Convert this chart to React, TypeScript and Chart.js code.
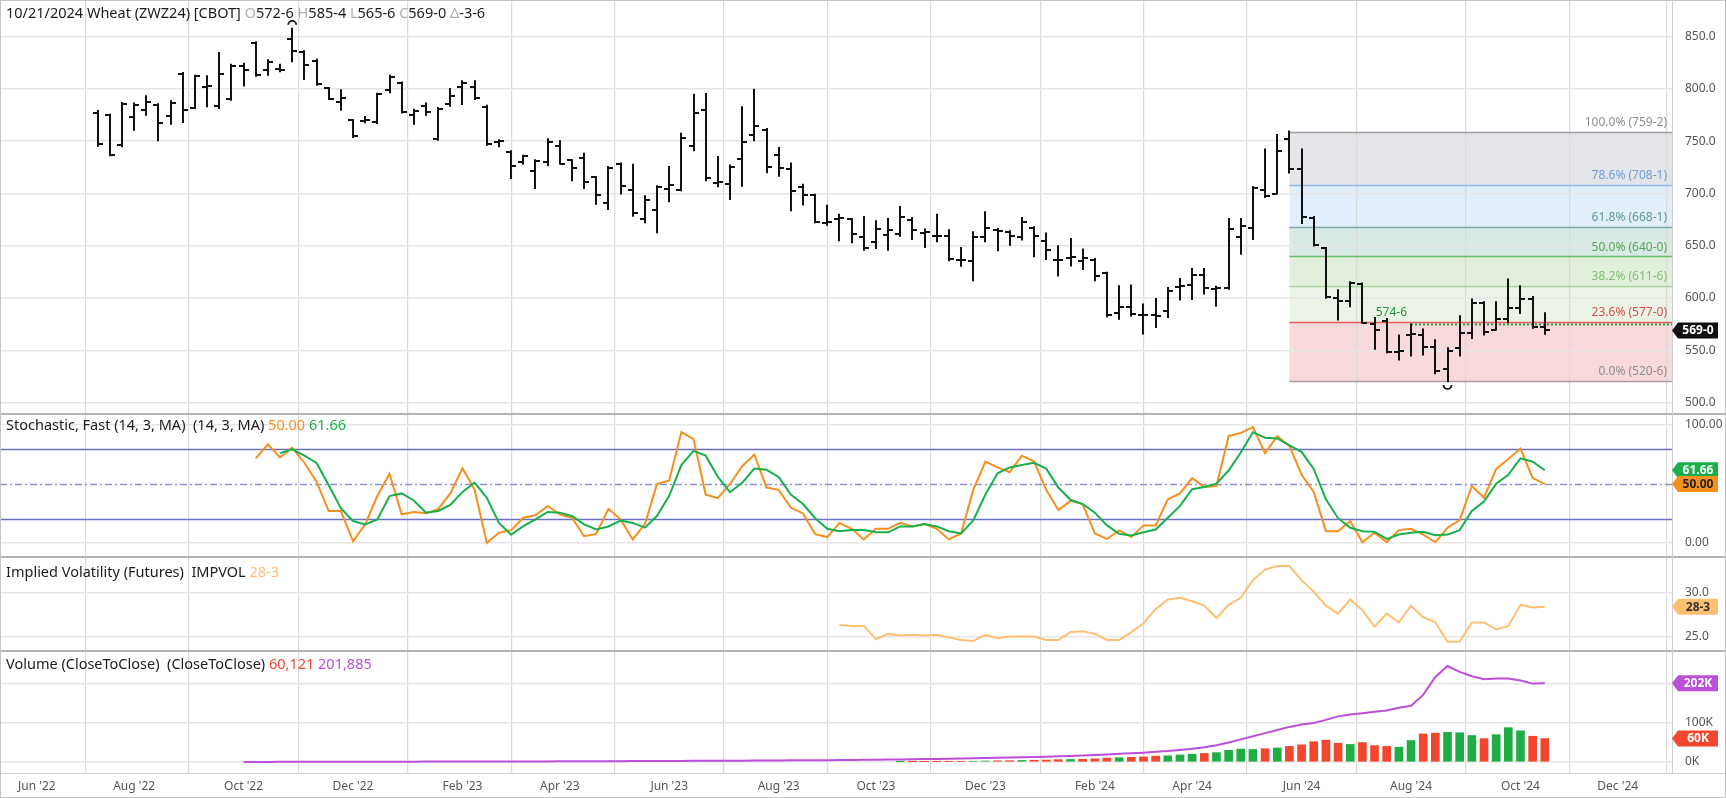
import React, { useEffect, useRef } from 'react';
import { Chart, registerables } from 'chart.js';

Chart.register(...registerables);

// ---------------- DATA ----------------
const FIRST_WEEK = '2022-07-11';
const TITLE = '10/21/2024 Wheat (ZWZ24) [CBOT] ';

const OPEN = [
  777, 775, 746, 773, 780, 785, 774, 814, 782, 802,
  784, 790, 822, 844, 818, 819, 848, 835, 827, 801,
  788, 770, 769, 768, 799, 806, 775, 784, 752, 786,
  802, 802, 783, 749, 739.4, 729.8, 722, 730, 745, 731.8,
  734, 715.8, 691, 728.6, 703, 675.7, 684, 704.3, 703.1, 745.8,
  780.2, 710, 709.4, 733, 756.3, 761.1, 737.2, 723.5, 706, 698.9,
  672, 675.7, 675.7, 658.4, 653.3, 660, 661.6, 675, 662, 659.7,
  659.7, 636.1, 635.2, 658.4, 665, 663, 658.5, 667.1, 655, 636.8,
  638.4, 635.2, 636.8, 624.1, 585.8, 591.2, 584.2, 584.2, 587.4, 610.7,
  612.9, 622.5, 608.8, 609.7, 658.5, 667.1, 703, 700, 752.5, 723.8,
  676.6, 648, 600, 597, 613, 575.6, 578, 548, 565, 565,
  553, 532, 552.4, 566.7, 595.4, 569.9, 580, 590.6, 599, 572.75,
];
const HIGH = [
  779, 775.4, 786.6, 786, 793, 785.5, 788.2, 815.3, 812.7, 812.1,
  834.4, 823.2, 824.2, 844.6, 827.4, 823.2, 857.5, 836, 828, 801,
  798.7, 770, 773.2, 795.5, 812.7, 806.3, 780.2, 786, 781.8, 800,
  807.3, 807.3, 784, 750.9, 740.4, 736.2, 731.8, 752, 749.9, 731.8,
  738.1, 715.8, 725.4, 728.6, 727.6, 697.3, 706.9, 725.4, 757.2, 794.5,
  795.2, 734.9, 726.7, 782.4, 799.3, 761.7, 743.5, 728.6, 708.5, 698.9,
  688.4, 679.8, 675.7, 677.6, 673.4, 675.7, 687.1, 676.6, 665.5, 679.8,
  664.8, 648, 662.9, 682, 666.1, 663.9, 676.6, 667.7, 661.7, 649.6,
  656.6, 646.4, 637.4, 624.1, 611.3, 611.9, 593.8, 599.2, 609.7, 618.3,
  627.9, 627.9, 610.7, 675.7, 675.7, 706.3, 742, 756, 759.25, 742,
  677.6, 648, 607.5, 615.2, 613.9, 581, 580, 564.2, 574.7, 569.9,
  559.7, 552, 582.6, 598.6, 596, 596, 617.7, 611.3, 601.1, 585.5,
];
const LOW = [
  745.8, 736.5, 745.1, 761.1, 775.4, 750.9, 766.8, 768.4, 781.8, 783.4,
  781.8, 789.8, 803.2, 812.7, 813.7, 816.9, 826.4, 809.5, 804, 790.4,
  780.2, 754, 768.1, 767.5, 796.8, 777.6, 766.8, 775.4, 751.5, 784,
  785.6, 790.4, 746.7, 745.1, 714.9, 728.6, 705.3, 727, 728.6, 712.6,
  705.3, 690.3, 685.2, 699.9, 678.8, 672.5, 662.9, 692.5, 703.1, 741.3,
  712.6, 706.9, 694.8, 707.5, 750.9, 720.3, 717.1, 684, 689.4, 672.5,
  670.2, 655.3, 653.3, 646.3, 647.9, 646.3, 659.7, 656.5, 648.9, 654.3,
  636.1, 631, 617, 654.3, 645.7, 651.1, 655.9, 640, 637.4, 621.5,
  631.1, 627.9, 617.1, 582.6, 580.1, 583.3, 566.1, 572.4, 582, 598.6,
  599.2, 604.3, 592.8, 608.8, 642.5, 656.6, 696.7, 699.9, 720, 671.9,
  650.2, 600.2, 579.5, 592.2, 576.3, 551.4, 548.2, 541.2, 545, 546,
  528, 520.75, 545, 561.9, 565.1, 569.9, 576.9, 585.8, 571.5, 565.75,
];
const CLOSE = [
  747, 737, 786, 785, 788, 767, 787, 780, 812, 803,
  814, 822, 818, 813, 826, 818, 836.6, 823, 805, 790.4,
  791, 755, 770, 795, 811, 778, 779, 778, 781, 793,
  805.7, 791, 747.7, 750, 726.7, 735.5, 730.8, 749, 728.6, 724.4,
  710.7, 698.9, 724.4, 707.5, 681.4, 694.1, 706.3, 708.5, 753.1, 777,
  714.9, 710.7, 725.4, 749, 764.9, 725.4, 724.4, 702.7, 698.9, 672.5,
  673, 676.6, 661.6, 648, 666, 664.8, 677.6, 664.8, 662.9, 659,
  637.4, 636.1, 658.4, 667, 663.9, 659, 672.5, 659.1, 645.7, 636.8,
  639.4, 638.4, 620.9, 584.2, 591.2, 585.2, 584.2, 582.6, 606.5, 612,
  622.5, 609.7, 609.7, 666.1, 669.3, 705.3, 697.4, 740.4, 723.8, 677.6,
  650.5, 601, 597, 614, 576.3, 569.9, 548.2, 549.2, 566, 553.3,
  530, 549, 566.7, 595.4, 567.4, 580, 590.6, 599, 572.75, 569,
];

const STOCH_K_FIRST = 13;
const STOCH_K = [
  71.7, 83.6, 72.5, 80.8, 68, 52, 27, 27, 1.4, 15.7,
  40, 58.6, 24.3, 26.3, 25.1, 28.6, 42, 63.3, 45, 0,
  8.6, 10.9, 21.4, 23.4, 31.4, 24.3, 21.4, 5.7, 7.7, 29,
  20, 3, 16, 50, 53, 94, 88, 41, 38, 50,
  65, 75, 47, 45, 30, 25, 7.5, 5, 17, 12,
  3, 12, 12, 17, 14, 16, 12, 3, 8, 45,
  69, 64, 60, 74, 69, 45, 28, 35.7, 32.9, 8,
  3.4, 10.6, 5.1, 14.9, 14.9, 37, 42, 55, 47.5, 48.3,
  90.5, 93.3, 98.3, 76.1, 90.5, 82.2, 57.8, 43.3, 10, 10,
  18.6, 0.6, 8.6, 0.6, 10.9, 12, 7.1, 0.6, 12.9, 19.4,
  48.3, 38.3, 62.8, 71.1, 80, 55, 50,
];
const STOCH_D_FIRST = 15;
const STOCH_D = [
  76.1, 79.4, 74, 67.8, 48.9, 29.4, 18.6, 15.7, 20, 39.7,
  42, 36, 25.7, 27.1, 32.2, 43.3, 51.1, 38.3, 17, 7,
  14.3, 20, 26.3, 25.7, 22.9, 15.7, 11.4, 14, 19, 17,
  13, 23, 40, 66, 78, 74, 56, 43, 51, 63,
  62, 56, 41, 33, 21, 12, 10, 11, 11, 9,
  9, 14, 14, 16, 14, 10, 8, 19, 41, 59,
  64, 66, 68, 63, 47, 36.6, 33, 25.7, 14.9, 7.7,
  6.3, 9.1, 11.4, 21.4, 31.4, 45.6, 47.5, 50.3, 61.4, 76.7,
  93.9, 89.2, 88.6, 82.8, 77.2, 62.8, 37, 21, 12.9, 10,
  9.4, 3.4, 7.1, 8.6, 9.4, 6.6, 7.1, 10.9, 27.1, 35,
  50.3, 57.8, 71.7, 68.9, 61.66,
];

const IV_FIRST = 61;
const IMPVOL = [
  26.3, 26.2, 26.2, 24.7, 25.3, 25.1, 25.2, 25.1, 25.2, 24.9,
  24.6, 24.5, 25.2, 24.8, 25.0, 25.0, 25.0, 24.6, 24.6, 25.5,
  25.6, 25.3, 24.6, 24.6, 25.5, 26.5, 28.1, 29.2, 29.4, 29.0,
  28.5, 27.1, 28.6, 29.4, 31.4, 32.6, 33.0, 33.0, 31.4, 30.1,
  28.5, 27.6, 29.2, 28.0, 26.1, 27.6, 26.6, 28.5, 27.2, 26.6,
  24.4, 24.4, 26.6, 26.6, 25.8, 26.2, 28.6, 28.3, 28.375,
];

// open interest (thousands)
const OI_FIRST = 12;
const OPEN_INTEREST = [
  0.2, 0.3, 0.3, 0.4, 0.4, 0.5, 0.5, 0.6, 0.6, 0.7, 0.7, 0.8, 0.8, 0.9, 0.9, 1.0, 1.0, 1.1, 1.1,
  1.2, 1.3, 1.3, 1.4, 1.5, 1.5, 1.6, 1.7, 1.8, 1.9, 2.0, 2.1, 2.2, 2.3, 2.4, 2.5, 2.6,
  2.8, 2.9, 3.0, 3.2, 3.3, 3.5, 3.6, 3.8, 4.0, 4.2, 4.4, 4.6, 4.8, 5.0, 5.3, 5.6, 6.0,
  6.3, 6.7, 7.1, 7.5, 7.9, 8.3, 8.8, 9.3, 10,
  10.6, 11.3, 12.0, 12.8, 13.6, 14.5, 15.5, 16.6, 18,
  19.5, 21, 22.5, 24, 26, 28, 31, 34,
  38, 43, 50, 58, 66, 74, 82, 90, 96,
  100, 108, 117, 122, 125, 129, 132, 139, 144, 172, 218, 246, 231, 220, 212, 214, 214, 209, 201, 201.885,
];

// volume (thousands)
const VOL_FIRST = 66;
const VOLUME = [
  0.5, 0.6, 0.8, 1, 1.2, 1.5, 2, 2.5, 3, 3.5,
  4, 4.5, 5, 6, 6.5, 7, 8, 10, 11, 12,
  13, 15, 16, 18, 20, 22, 24, 30, 33, 32,
  34, 36, 40, 44, 52, 56, 48, 45, 50, 42,
  40, 38, 55, 72, 74, 76, 75, 68, 60, 70,
  88, 80, 66, 60.121,
];

const MONTH_LABELS = ["Jun '22", "Aug '22", "Oct '22", "Dec '22", "Feb '23", "Apr '23", "Jun '23", "Aug '23",
  "Oct '23", "Dec '23", "Feb '24", "Apr '24", "Jun '24", "Aug '24", "Oct '24", "Dec '24"];
const MONTH_FIRST_WEEKS = ['2022-06-06', '2022-08-01', '2022-10-03', '2022-12-05', '2023-02-06', '2023-04-03',
  '2023-06-05', '2023-08-07', '2023-10-02', '2023-12-04', '2024-02-05', '2024-04-01', '2024-06-03',
  '2024-08-05', '2024-10-07', '2024-12-02'];

const PRICE_TICKS = [500, 550, 600, 650, 700, 750, 800, 850];
const STOCH_TICKS = [0, 100];
const IV_TICKS = [25, 30];
const VOL_TICKS = [0, 100, 200];
const STOCH_LEVELS = [80, 50, 20];

const FIB_HIGH = 759.25;
const FIB_LOW = 520.75;
const FIB_START_WEEK = 98;
const FIB_RATIOS = [1, 0.786, 0.618, 0.5, 0.382, 0.236, 0];
const REF_LINE_PRICE = 574.75;
const REF_LINE_START_WEEK = 108;

// ---------------- STYLE ----------------
const FONT = "'Noto Sans', 'Open Sans', sans-serif";
const FIB_FILLS = ['#e4e5e8', '#e2eefb', '#d9e9e6', '#e1efdc', '#eaf3e6', '#f8d9dc'];
const FIB_LINES = ['#a2a2a6', '#8fb9e8', '#7aaca4', '#6cbd6c', '#a6d29c', '#e65c5c', '#aa9c9c'];
const FIB_TEXT = ['#8e8e8e', '#6f9fd6', '#5f9a92', '#55a655', '#86bd78', '#d85050', '#8e8e8e'];
const C_K = '#f5901e';
const C_D = '#17b04a';
const C_IV = '#ffbf70';
const C_OI = '#bb4fd9';
const C_UP = '#1fae44';
const C_DN = '#f2472e';

function fmt8(v: number): string {
  const neg = v < 0;
  const a = Math.abs(v);
  const whole = Math.floor(a + 1e-9);
  const eighths = Math.floor((a - whole) * 8 + 1e-6);
  return `${neg ? '-' : ''}${whole}-${eighths}`;
}

function weekIndex(d: string): number {
  return Math.round((Date.parse(d) - Date.parse(FIRST_WEEK)) / (7 * 864e5));
}

function segs(ctx: CanvasRenderingContext2D, x: number, y: number, parts: [string, string][]) {
  let cx = x;
  for (const [t, c] of parts) {
    ctx.fillStyle = c;
    ctx.fillText(t, cx, y);
    cx += ctx.measureText(t).width;
  }
}

function badge(ctx: CanvasRenderingContext2D, xl: number, y: number, text: string, bg: string, fg: string) {
  const h = 16, tip = 6, w = 40;
  ctx.beginPath();
  ctx.moveTo(xl, y);
  ctx.lineTo(xl + tip, y - h / 2);
  ctx.lineTo(xl + tip + w, y - h / 2);
  ctx.lineTo(xl + tip + w, y + h / 2);
  ctx.lineTo(xl + tip, y + h / 2);
  ctx.closePath();
  ctx.fillStyle = bg;
  ctx.fill();
  ctx.fillStyle = fg;
  ctx.font = `bold 12px ${FONT}`;
  ctx.textAlign = 'center';
  ctx.textBaseline = 'middle';
  ctx.fillText(text, xl + tip + w / 2, y + 0.5);
}

const panelPlugin = {
  id: 'panels',
  beforeDraw(chart: any) {
    const { ctx, chartArea, scales } = chart;
    const x = scales.x, y = scales.yPrice;
    const x0 = x.getPixelForValue(FIB_START_WEEK);
    const levels = FIB_RATIOS.map((r) => FIB_LOW + (FIB_HIGH - FIB_LOW) * r);
    ctx.save();
    for (let i = 0; i < levels.length - 1; i++) {
      const ya = y.getPixelForValue(levels[i]);
      const yb = y.getPixelForValue(levels[i + 1]);
      ctx.fillStyle = FIB_FILLS[i];
      ctx.fillRect(x0, ya, chartArea.right - x0, yb - ya);
    }
    ctx.restore();
  },
  beforeDatasetsDraw(chart: any) {
    const { ctx, chartArea, scales, width } = chart;
    const x = scales.x, y = scales.yPrice;
    ctx.save();
    // fib lines
    const x0 = x.getPixelForValue(FIB_START_WEEK);
    FIB_RATIOS.forEach((r, i) => {
      const lv = FIB_LOW + (FIB_HIGH - FIB_LOW) * r;
      const py = Math.round(y.getPixelForValue(lv)) + 0.5;
      ctx.strokeStyle = FIB_LINES[i];
      ctx.lineWidth = 1.5;
      ctx.beginPath();
      ctx.moveTo(x0, py);
      ctx.lineTo(chartArea.right, py);
      ctx.stroke();
    });
    // stochastic reference lines
    const ys = scales.yStoch;
    STOCH_LEVELS.forEach((lv) => {
      const py = Math.round(ys.getPixelForValue(lv)) + 0.5;
      ctx.strokeStyle = lv === 50 ? '#8d91d4' : '#6b6fc2';
      ctx.lineWidth = 1.5;
      ctx.setLineDash(lv === 50 ? [7, 3, 2, 3] : []);
      ctx.beginPath();
      ctx.moveTo(chartArea.left, py);
      ctx.lineTo(chartArea.right, py);
      ctx.stroke();
    });
    ctx.setLineDash([]);
    // panel separators
    ctx.strokeStyle = '#b3b3b3';
    ctx.lineWidth = 2;
    [scales.yPrice.bottom, scales.yStoch.bottom, scales.yIV.bottom].forEach((b: number) => {
      ctx.beginPath();
      ctx.moveTo(0, b);
      ctx.lineTo(width, b);
      ctx.stroke();
    });
    ctx.strokeStyle = '#cfcfcf';
    ctx.lineWidth = 1;
    ctx.beginPath();
    ctx.moveTo(0, chartArea.bottom + 0.5);
    ctx.lineTo(width, chartArea.bottom + 0.5);
    ctx.moveTo(chartArea.right + 0.5, 0);
    ctx.lineTo(chartArea.right + 0.5, chartArea.bottom);
    ctx.stroke();
    ctx.restore();
  },
  afterDatasetsDraw(chart: any) {
    const { ctx, chartArea, scales } = chart;
    const x = scales.x, y = scales.yPrice;
    ctx.save();
    // reference close line
    const ry = Math.round(y.getPixelForValue(REF_LINE_PRICE)) + 0.5;
    const rx = x.getPixelForValue(REF_LINE_START_WEEK);
    ctx.strokeStyle = '#1f9b3c';
    ctx.lineWidth = 2;
    ctx.setLineDash([2, 2]);
    ctx.beginPath();
    ctx.moveTo(rx, ry);
    ctx.lineTo(chartArea.right, ry);
    ctx.stroke();
    ctx.setLineDash([]);
    ctx.fillStyle = '#1f9b3c';
    ctx.font = `12px ${FONT}`;
    ctx.textAlign = 'right';
    ctx.textBaseline = 'bottom';
    ctx.fillText(fmt8(REF_LINE_PRICE), rx - 4, ry - 6);

    // OHLC bars
    ctx.strokeStyle = '#111';
    ctx.lineWidth = 2;
    for (let i = 0; i < CLOSE.length; i++) {
      const px = Math.round(x.getPixelForValue(i));
      const yh = y.getPixelForValue(HIGH[i]);
      const yl = y.getPixelForValue(LOW[i]);
      const yo = Math.round(y.getPixelForValue(OPEN[i]));
      const yc = Math.round(y.getPixelForValue(CLOSE[i]));
      ctx.beginPath();
      ctx.moveTo(px, yh - 1);
      ctx.lineTo(px, yl + 1);
      ctx.moveTo(px - 5, yo);
      ctx.lineTo(px, yo);
      ctx.moveTo(px, yc);
      ctx.lineTo(px + 5, yc);
      ctx.stroke();
    }
    // high / low markers
    let hi = 0, lo = 0;
    HIGH.forEach((v, i) => { if (v > HIGH[hi]) hi = i; });
    LOW.forEach((v, i) => { if (v < LOW[lo]) lo = i; });
    ctx.lineWidth = 1.8;
    ctx.beginPath();
    ctx.arc(x.getPixelForValue(hi), y.getPixelForValue(HIGH[hi]) - 4, 4, Math.PI, 2 * Math.PI);
    ctx.stroke();
    ctx.beginPath();
    ctx.arc(x.getPixelForValue(lo), y.getPixelForValue(LOW[lo]) + 4, 4, 0, Math.PI);
    ctx.stroke();
    ctx.restore();
  },
  afterDraw(chart: any) {
    const { ctx, chartArea, scales, width, height } = chart;
    const y = scales.yPrice;
    ctx.save();
    // fib labels
    ctx.font = `12px ${FONT}`;
    ctx.textAlign = 'right';
    ctx.textBaseline = 'bottom';
    FIB_RATIOS.forEach((r, i) => {
      const lv = FIB_LOW + (FIB_HIGH - FIB_LOW) * r;
      const py = y.getPixelForValue(lv);
      ctx.fillStyle = FIB_TEXT[i];
      ctx.fillText(`${(r * 100).toFixed(1)}% (${fmt8(lv)})`, chartArea.right - 5, py - 3);
    });

    // headers
    const n = CLOSE.length;
    const dark = '#1c1c1c', gray = '#b0b0b0';
    ctx.font = `14.5px ${FONT}`;
    ctx.textAlign = 'left';
    ctx.textBaseline = 'middle';
    segs(ctx, 6, 14, [
      [TITLE, dark],
      ['O', gray], [fmt8(OPEN[n - 1]) + ' ', dark],
      ['H', gray], [fmt8(HIGH[n - 1]) + ' ', dark],
      ['L', gray], [fmt8(LOW[n - 1]) + ' ', dark],
      ['C', gray], [fmt8(CLOSE[n - 1]) + ' ', dark],
      ['\u0394', gray], [fmt8(CLOSE[n - 1] - CLOSE[n - 2]), dark],
    ]);
    const kLast = STOCH_K[STOCH_K.length - 1];
    const dLast = STOCH_D[STOCH_D.length - 1];
    segs(ctx, 6, scales.yStoch.top + 12, [
      ['Stochastic, Fast (14, 3, MA)  (14, 3, MA) ', dark],
      [kLast.toFixed(2), C_K], [' ', dark], [dLast.toFixed(2), C_D],
    ]);
    const ivLast = IMPVOL[IMPVOL.length - 1];
    segs(ctx, 6, scales.yIV.top + 16, [
      ['Implied Volatility (Futures)  IMPVOL ', dark],
      [fmt8(ivLast), C_IV],
    ]);
    const vLast = VOLUME[VOLUME.length - 1];
    const oiLast = OPEN_INTEREST[OPEN_INTEREST.length - 1];
    segs(ctx, 6, scales.yVol.top + 14, [
      ['Volume (CloseToClose)  (CloseToClose) ', dark],
      [Math.round(vLast * 1000).toLocaleString('en-US'), C_DN], [' ', dark],
      [Math.round(oiLast * 1000).toLocaleString('en-US'), C_OI],
    ]);

    // badges
    const bx = chartArea.right;
    badge(ctx, bx, y.getPixelForValue(CLOSE[n - 1]), fmt8(CLOSE[n - 1]), '#111', '#fff');
    badge(ctx, bx, scales.yStoch.getPixelForValue(dLast), dLast.toFixed(2), C_D, '#fff');
    badge(ctx, bx, scales.yStoch.getPixelForValue(kLast), kLast.toFixed(2), C_K, '#222');
    badge(ctx, bx, scales.yIV.getPixelForValue(ivLast), fmt8(ivLast), C_IV, '#333');
    badge(ctx, bx, scales.yVol.getPixelForValue(oiLast), `${Math.round(oiLast)}K`, C_OI, '#fff');
    const vb = VOL_FIRST + VOLUME.length - 1;
    badge(ctx, bx, scales.yVol.getPixelForValue(vLast), `${Math.round(vLast)}K`,
      CLOSE[vb] >= CLOSE[vb - 1] ? C_UP : C_DN, '#fff');

    // frame
    ctx.strokeStyle = '#c4c4c4';
    ctx.lineWidth = 1;
    ctx.strokeRect(0.5, 0.5, width - 1, height - 1);
    ctx.restore();
  },
};

function yAxis(weight: number, stackWeight: number, min: number, max: number, ticks: number[],
  fmt: (v: number) => string, grid: string) {
  return {
    type: 'linear' as const,
    position: 'right' as const,
    stack: 'panels',
    stackWeight,
    weight,
    min,
    max,
    grid: { color: grid, lineWidth: 1.5, drawTicks: false },
    border: { display: false },
    ticks: {
      color: '#555',
      font: { size: 12, family: FONT },
      padding: 13,
      autoSkip: false,
      callback: (v: any) => fmt(Number(v)),
    },
    afterBuildTicks: (s: any) => { s.ticks = ticks.map((v) => ({ value: v })); },
    afterFit: (s: any) => {
      s.width = 54;
      s.paddingTop = 0;
      s.paddingBottom = 0;
      s.paddingLeft = 0;
      s.paddingRight = 0;
    },
  };
}

export default function App() {
  const ref = useRef<HTMLCanvasElement>(null);

  useEffect(() => {
    const canvas = ref.current;
    if (!canvas) return;
    const monthIdx = MONTH_FIRST_WEEKS.map(weekIndex);
    const closeData = CLOSE.map((c, i) => ({ x: i, y: c }));
    const kData = STOCH_K.map((v, i) => ({ x: STOCH_K_FIRST + i, y: v }));
    const dData = STOCH_D.map((v, i) => ({ x: STOCH_D_FIRST + i, y: v }));
    const ivData = IMPVOL.map((v, i) => ({ x: IV_FIRST + i, y: v }));
    const oiData = OPEN_INTEREST.map((v, i) => ({ x: OI_FIRST + i, y: v }));
    const volData = VOLUME.map((v, i) => ({ x: VOL_FIRST + i, y: v }));
    const volColors = VOLUME.map((_, i) => {
      const b = VOL_FIRST + i;
      return CLOSE[b] >= CLOSE[b - 1] ? C_UP : C_DN;
    });

    const line = (color: string) => ({
      borderColor: color, borderWidth: 2, pointRadius: 0, tension: 0, fill: false,
    });

    const chart = new Chart(canvas, {
      type: 'line',
      data: {
        datasets: [
          { type: 'line', label: 'Close', data: closeData, yAxisID: 'yPrice', showLine: false, pointRadius: 0, borderWidth: 0 } as any,
          { type: 'line', label: '%D', data: dData, yAxisID: 'yStoch', ...line(C_D) },
          { type: 'line', label: '%K', data: kData, yAxisID: 'yStoch', ...line(C_K) },
          { type: 'line', label: 'IMPVOL', data: ivData, yAxisID: 'yIV', ...line(C_IV) },
          { type: 'line', label: 'OI', data: oiData, yAxisID: 'yVol', ...line(C_OI) },
          { type: 'bar', label: 'Volume', data: volData, yAxisID: 'yVol', backgroundColor: volColors, barThickness: 8, borderWidth: 0 } as any,
        ],
      },
      options: {
        animation: false,
        responsive: true,
        maintainAspectRatio: false,
        events: [],
        layout: { padding: 0, autoPadding: false } as any,
        plugins: { legend: { display: false }, tooltip: { enabled: false }, title: { display: false } },
        scales: {
          x: {
            type: 'linear',
            min: -8.03,
            max: 129.46,
            offset: false,
            grid: { color: '#dadada', lineWidth: 1.2, drawTicks: false },
            border: { display: false },
            ticks: {
              color: '#555',
              font: { size: 12, family: FONT },
              padding: 6,
              maxRotation: 0,
              autoSkip: false,
              callback: (_v: any, i: number) => MONTH_LABELS[i],
            },
            afterBuildTicks: (s: any) => { s.ticks = monthIdx.map((v) => ({ value: v })); },
            afterFit: (s: any) => {
              s.height = 25;
              s.paddingLeft = 0;
              s.paddingRight = 0;
              s.paddingTop = 0;
              s.paddingBottom = 0;
            },
          },
          yPrice: yAxis(1, 414, 489.1, 885.1, PRICE_TICKS, (v) => v.toFixed(1), '#e6e6e6'),
          yStoch: yAxis(2, 143, -11.9, 109.3, STOCH_TICKS, (v) => v.toFixed(2), '#e6e6e6'),
          yIV: yAxis(3, 94, 23.35, 34.03, IV_TICKS, (v) => v.toFixed(1), '#e6e6e6'),
          yVol: yAxis(4, 122, -28.2, 284.6, VOL_TICKS, (v) => `${v}K`, '#e6e6e6'),
        } as any,
      },
      plugins: [panelPlugin],
    });
    return () => chart.destroy();
  }, []);

  return (
    <div style={{ position: 'fixed', left: 0, top: 0, width: 1726, height: 798, background: '#fff' }}>
      <canvas ref={ref} />
    </div>
  );
}
